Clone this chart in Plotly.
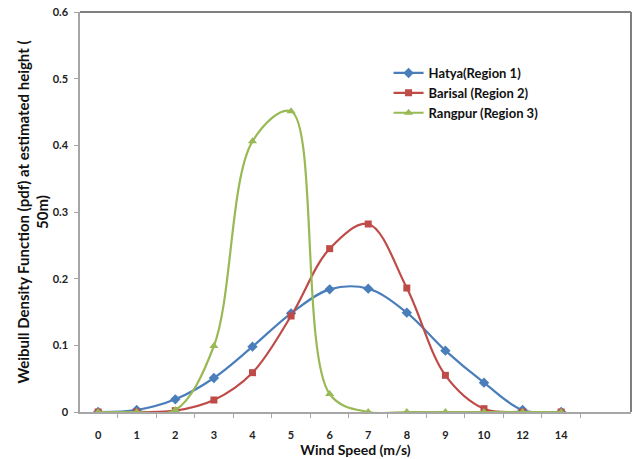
import plotly.graph_objects as go

# Wind speed classes (m/s) shown as categories
wind_speed = ["0", "1", "2", "3", "4", "5", "6", "7", "8", "9", "10", "12", "14"]

# Weibull probability density at 50 m for each region
hatya_pdf = [0.0, 0.003, 0.019, 0.051, 0.098, 0.148, 0.184, 0.185, 0.149, 0.092, 0.044, 0.003, 0.0]
barisal_pdf = [0.0, 0.0, 0.002, 0.018, 0.059, 0.144, 0.245, 0.282, 0.186, 0.055, 0.005, 0.0, 0.0]
rangpur_pdf = [0.0, 0.0, 0.003, 0.099, 0.406, 0.451, 0.027, 0.0, 0.0, 0.0, 0.0, 0.0, 0.0]

# Y axis tick values and labels
y_ticks = [0, 0.1, 0.2, 0.3, 0.4, 0.5, 0.6]
y_tick_text = ["0", "0.1", "0.2", "0.3", "0.4", "0.5", "0.6"]

series = [
    ("Hatya(Region 1)", hatya_pdf, "#4A7EBB", "diamond", 8),
    ("Barisal (Region 2)", barisal_pdf, "#BE4B48", "square", 7),
    ("Rangpur (Region 3)", rangpur_pdf, "#98B954", "triangle-up", 8),
]

FONT = "Lato"

fig = go.Figure()
for name, vals, color, symbol, msize in series:
    fig.add_trace(go.Scatter(
        x=wind_speed, y=vals, name=name, mode="lines+markers",
        line=dict(color=color, width=2.2, shape="spline", smoothing=1.0),
        marker=dict(symbol=symbol, size=msize, color=color),
    ))

fig.update_layout(
    width=633, height=459,
    margin=dict(l=80, r=2, t=12, b=47),
    paper_bgcolor="white", plot_bgcolor="white",
    font=dict(family=FONT, color="#222222"),
    showlegend=True,
    legend=dict(
        x=0.56, y=0.885, xanchor="left", yanchor="top",
        bgcolor="rgba(0,0,0,0)",
        font=dict(size=13, family=FONT, color="#111111", weight="bold"),
        itemwidth=30, tracegroupgap=0,
    ),
    xaxis=dict(
        type="category", range=[-0.47, 13.81],
        showgrid=False, zeroline=False,
        showline=True, linecolor="#A6A6A6", linewidth=1.5,
        ticks="outside", tickson="boundaries", ticklen=4, tickcolor="#A6A6A6",
        ticklabelstandoff=12,
        tickfont=dict(size=11, family=FONT, color="#222222", weight="bold"),
        title=dict(text="<b>Wind Speed (m/s)</b>", font=dict(size=14, family=FONT, color="#111111"), standoff=1),
    ),
    yaxis=dict(
        range=[0, 0.6], tickvals=y_ticks, ticktext=y_tick_text,
        showgrid=False, zeroline=False,
        showline=True, linecolor="#A6A6A6", linewidth=1.5,
        ticks="outside", ticklen=4, tickcolor="#A6A6A6",
        ticklabelstandoff=4,
        tickfont=dict(size=11, family=FONT, color="#222222", weight="bold"),
        title=dict(text="<b>Weibull Density Function (pdf) at estimated height (<br>50m)</b>",
                   font=dict(size=15, family=FONT, color="#111111"), standoff=0),
    ),
)

# Frame along the top and right of the plotting area
fig.add_shape(type="line", xref="paper", yref="paper", x0=0, x1=1, y0=1, y1=1,
              line=dict(color="#7F7F7F", width=2))
fig.add_shape(type="line", xref="paper", yref="paper", x0=1, x1=1, y0=0, y1=1,
              line=dict(color="#7F7F7F", width=2))

fig.write_html("out.html")
